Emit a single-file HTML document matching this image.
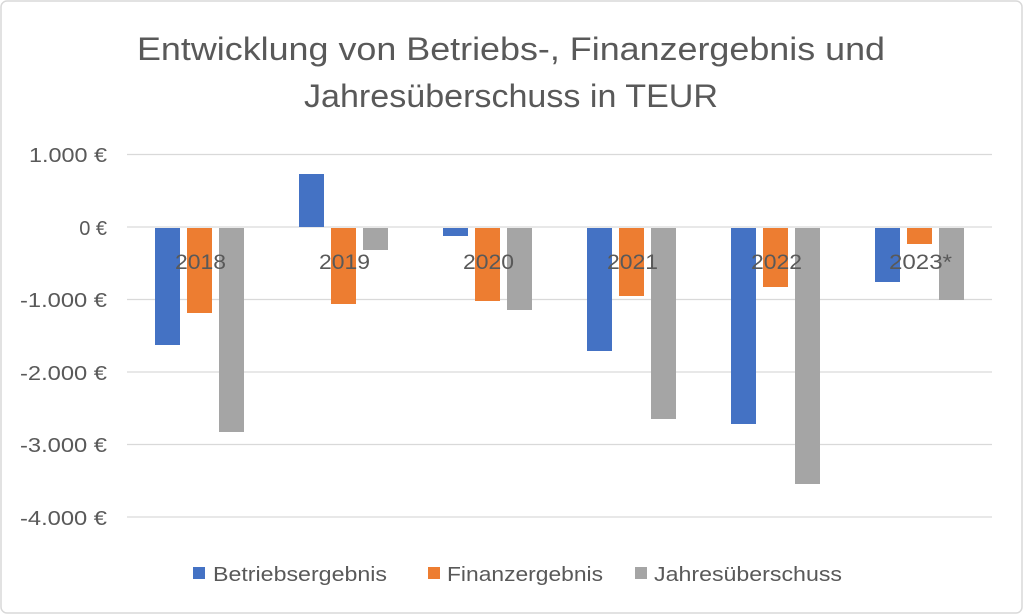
<!DOCTYPE html>
<html><head><meta charset="utf-8"><style>
html,body{margin:0;padding:0;background:#fff;}
svg{display:block;}
text{font-family:"Liberation Sans",sans-serif;fill:#595959;}
</style></head><body>
<svg width="1024" height="615" viewBox="0 0 1024 615">
<rect x="1" y="1" width="1021" height="612" rx="6" fill="#fff" stroke="#d9d9d9" stroke-width="1.5"/>
<text x="137" y="60" font-size="32" textLength="748" lengthAdjust="spacingAndGlyphs">Entwicklung von Betriebs-, Finanzergebnis und</text>
<text x="304" y="107" font-size="32" textLength="414" lengthAdjust="spacingAndGlyphs">Jahresüberschuss in TEUR</text>
<g stroke="#d9d9d9" stroke-width="1.3">
<line x1="127" x2="992" y1="154.5" y2="154.5"/>
<line x1="127" x2="992" y1="227" y2="227"/>
<line x1="127" x2="992" y1="299.5" y2="299.5"/>
<line x1="127" x2="992" y1="372" y2="372"/>
<line x1="127" x2="992" y1="444.5" y2="444.5"/>
<line x1="127" x2="992" y1="517" y2="517"/>
</g>
<g font-size="20" text-anchor="end">
<text x="107" y="162" textLength="78" lengthAdjust="spacingAndGlyphs">1.000 €</text>
<text x="107" y="235">0 €</text>
<text x="107" y="307" textLength="87" lengthAdjust="spacingAndGlyphs">-1.000 €</text>
<text x="107" y="380" textLength="87" lengthAdjust="spacingAndGlyphs">-2.000 €</text>
<text x="107" y="452" textLength="87" lengthAdjust="spacingAndGlyphs">-3.000 €</text>
<text x="107" y="525" textLength="87" lengthAdjust="spacingAndGlyphs">-4.000 €</text>
</g>
<g fill="#4472c4">
<rect x="155" y="228" width="25" height="117"/>
<rect x="299" y="174" width="25" height="53"/>
<rect x="443" y="228" width="25" height="8"/>
<rect x="587" y="228" width="25" height="123"/>
<rect x="731" y="228" width="25" height="196"/>
<rect x="875" y="228" width="25" height="54"/>
</g>
<g fill="#ed7d31">
<rect x="187" y="228" width="25" height="85"/>
<rect x="331" y="228" width="25" height="76"/>
<rect x="475" y="228" width="25" height="73"/>
<rect x="619" y="228" width="25" height="68"/>
<rect x="763" y="228" width="25" height="59"/>
<rect x="907" y="228" width="25" height="16"/>
</g>
<g fill="#a5a5a5">
<rect x="219" y="228" width="25" height="204"/>
<rect x="363" y="228" width="25" height="22"/>
<rect x="507" y="228" width="25" height="82"/>
<rect x="651" y="228" width="25" height="191"/>
<rect x="795" y="228" width="25" height="256"/>
<rect x="939" y="228" width="25" height="72"/>
</g>
<g font-size="21">
<text x="175" y="269" textLength="51" lengthAdjust="spacingAndGlyphs">2018</text>
<text x="319" y="269" textLength="51" lengthAdjust="spacingAndGlyphs">2019</text>
<text x="463" y="269" textLength="51" lengthAdjust="spacingAndGlyphs">2020</text>
<text x="607" y="269" textLength="51" lengthAdjust="spacingAndGlyphs">2021</text>
<text x="751" y="269" textLength="51" lengthAdjust="spacingAndGlyphs">2022</text>
<text x="889" y="269" textLength="63" lengthAdjust="spacingAndGlyphs">2023*</text>
</g>
<rect x="193" y="567" width="12" height="12" fill="#4472c4"/>
<rect x="428" y="567" width="12" height="12" fill="#ed7d31"/>
<rect x="635" y="567" width="12" height="12" fill="#a5a5a5"/>
<g font-size="20">
<text x="213" y="581" textLength="174" lengthAdjust="spacingAndGlyphs">Betriebsergebnis</text>
<text x="447" y="581" textLength="156" lengthAdjust="spacingAndGlyphs">Finanzergebnis</text>
<text x="654" y="581" textLength="188" lengthAdjust="spacingAndGlyphs">Jahresüberschuss</text>
</g>
</svg>
</body></html>
